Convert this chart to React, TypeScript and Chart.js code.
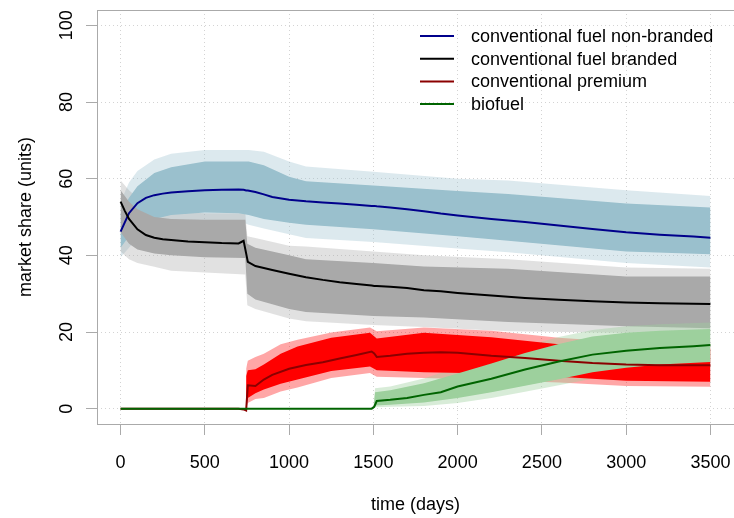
import { useEffect, useRef } from "react";
import { Chart, registerables } from "chart.js";

Chart.register(...registerables);

// axis ticks
const X_TICKS = [0, 500, 1000, 1500, 2000, 2500, 3000, 3500];
const Y_TICKS = [0, 20, 40, 60, 80, 100];

const SERIES_NAMES = [
  "conventional fuel non-branded",
  "conventional fuel branded",
  "conventional premium",
  "biofuel",
];
const LINE_COLORS = ["#00008b", "#000000", "#8b0000", "#006400"];

// mean market share over all runs (days -> units)
const TIME = [
  0, 25, 50, 100, 150, 200, 250, 300, 400, 500, 600, 700, 730, 745, 755, 800, 850, 900, 1000, 1100,
  1200, 1300, 1400, 1490, 1505, 1520, 1600, 1700, 1800, 1900, 2000, 2200, 2400, 2600, 2800, 3000,
  3200, 3400, 3500,
];
const NON_BRANDED = [
  46.2, 48.6, 51.0, 53.6, 55.0, 55.7, 56.1, 56.4, 56.7, 57.0, 57.1, 57.2, 57.1, 56.9, 56.9, 56.5,
  55.9, 55.2, 54.5, 54.1, 53.8, 53.5, 53.2, 52.9, 52.9, 52.8, 52.5, 52.0, 51.5, 50.9, 50.4, 49.5,
  48.7, 47.8, 46.9, 46.0, 45.4, 44.9, 44.6,
];
const BRANDED = [
  54.0, 51.6, 49.5, 46.8, 45.3, 44.6, 44.2, 44.0, 43.6, 43.4, 43.2, 43.1, 43.8, 40.5, 38.3, 37.2,
  36.7, 36.2, 35.2, 34.3, 33.6, 33.0, 32.5, 32.1, 32.0, 32.0, 31.8, 31.5, 30.9, 30.6, 30.2, 29.5,
  28.9, 28.4, 28.0, 27.7, 27.5, 27.4, 27.3,
];
const PREMIUM = [
  0, 0, 0, 0, 0, 0, 0, 0, 0, 0, 0, 0, -0.2, -0.5, 6.1, 5.9, 7.6, 8.8, 10.4, 11.4, 12.1, 13.1, 14.0,
  14.9, 14.4, 13.5, 13.8, 14.3, 14.6, 14.7, 14.6, 13.8, 13.2, 12.5, 11.9, 11.5, 11.3, 11.3, 11.3,
];
const BIOFUEL = [
  0, 0, 0, 0, 0, 0, 0, 0, 0, 0, 0, 0, 0, 0, 0, 0, 0, 0, 0, 0, 0, 0, 0, 0, 0.5, 2.0, 2.3, 2.8, 3.6,
  4.3, 5.8, 7.8, 10.2, 12.3, 14.1, 15.1, 15.8, 16.3, 16.6,
];

// spread of the individual runs: dense core and thin outer fringe
const NB_T = [0, 50, 100, 200, 300, 500, 700, 760, 850, 1000, 1100, 1500, 2000, 2300, 3000, 3500];
const NB_CORE_LO = [42, 45, 47.5, 49.5, 50.5, 51.2, 51, 50.5, 49.5, 48.5, 48, 46.8, 45, 43.8, 41, 40.3];
const NB_CORE_HI = [51, 55, 58, 61.5, 63, 64.5, 64.5, 64.5, 63.5, 60.5, 59.3, 58.2, 56.8, 56, 53.5, 52.5];
const NB_FRINGE_LO = [39.5, 42, 44.5, 47, 48.5, 49.2, 49, 48, 47, 45.5, 44.5, 43.5, 41.8, 40.8, 38, 36.8];
const NB_FRINGE_HI = [54, 59, 62, 65, 66.5, 67.5, 67.5, 67.5, 67, 64.5, 63.2, 61.8, 60, 59.5, 57, 55.5];

const BR_T = [0, 50, 100, 200, 300, 500, 740, 752, 800, 1000, 1100, 1500, 1800, 2300, 3000, 3500];
const BR_CORE_HI = [57, 54, 52, 50, 49.5, 49.3, 49.3, 43, 42, 40, 39, 38, 37.1, 36.5, 34.5, 34.5];
const BR_CORE_LO = [46, 43, 41.5, 40.5, 40, 39.5, 39.3, 30, 28.5, 26, 25.2, 24.2, 23.8, 22.6, 21.5, 21];
const BR_FRINGE_HI = [59.5, 57, 55, 52.5, 51.5, 51, 51, 45, 44.5, 42.5, 42.3, 41, 40, 39, 36.8, 36.5];
const BR_FRINGE_LO = [41, 39, 38, 37, 36, 35.5, 35, 27, 26, 23.5, 22.8, 21.8, 21.3, 20.2, 19.8, 19.5];

const PR_T = [745, 755, 800, 850, 950, 1050, 1250, 1480, 1520, 1800, 2200, 2600, 3000, 3500];
const PR_CORE_LO = [0.5, 2.8, 4.0, 5.0, 6.5, 7.6, 9.8, 11.0, 10.0, 9.5, 9.2, 8.3, 7.3, 7.0];
const PR_CORE_HI = [8.5, 10.0, 10.3, 11.5, 14.3, 16.2, 18.5, 19.8, 18.3, 19.8, 18.6, 16.8, 15.8, 15.6];
const PR_FRINGE_LO = [0.2, 1.5, 2.5, 2.8, 4.5, 5.5, 8.0, 9.3, 8.3, 8.0, 7.5, 6.8, 5.9, 5.7];
const PR_FRINGE_HI = [10.5, 12.5, 13.5, 14.3, 16.8, 18.0, 19.9, 21.2, 20.2, 21.2, 20.3, 18.5, 17.3, 17.0];

const BF_T = [1500, 1510, 1600, 1800, 2000, 2200, 2400, 2600, 2800, 3000, 3200, 3500];
const BF_CORE_LO = [0, 0.8, 1.0, 1.6, 2.8, 4.3, 6.0, 7.7, 9.5, 10.7, 11.5, 12.2];
const BF_CORE_HI = [0, 4.3, 4.8, 6.6, 9.2, 11.8, 14.5, 16.9, 18.8, 19.8, 20.3, 20.8];
const BF_FRINGE_LO = [0, 0.4, 0.5, 0.7, 1.5, 2.8, 4.4, 6.1, 7.8, 9.2, 10.0, 10.7];
const BF_FRINGE_HI = [0, 5.3, 5.8, 7.9, 10.8, 13.5, 16.3, 18.7, 20.5, 21.5, 22.0, 22.5];

const FONT = '"Liberation Sans", Arial, Helvetica, sans-serif';

const pts = (t: number[], v: number[]) => t.map((x, i) => ({ x, y: v[i] }));

// an upper edge filled down to the lower edge that follows it
function band(t: number[], hi: number[], lo: number[], color: string, order: number) {
  const common = {
    borderWidth: 0,
    borderColor: "rgba(0,0,0,0)",
    pointRadius: 0,
    tension: 0,
    order,
  };
  return [
    { ...common, label: "", data: pts(t, hi), fill: "+1", backgroundColor: color },
    { ...common, label: "", data: pts(t, lo), fill: false, backgroundColor: color },
  ];
}

function meanLine(i: number, values: number[], order: number) {
  return {
    label: SERIES_NAMES[i],
    data: pts(TIME, values),
    borderColor: LINE_COLORS[i],
    backgroundColor: LINE_COLORS[i],
    borderWidth: 2,
    pointRadius: 0,
    tension: 0,
    fill: false,
    order,
  };
}

const frameAndLegend = {
  id: "frameAndLegend",
  afterDatasetsDraw(chart: any) {
    const { ctx, chartArea } = chart;
    ctx.save();
    ctx.strokeStyle = "#aaaaaa";
    ctx.lineWidth = 1;
    ctx.strokeRect(chartArea.left + 0.5, chartArea.top + 0.5, chartArea.right - chartArea.left, chartArea.bottom - chartArea.top);

    ctx.font = `18px ${FONT}`;
    ctx.textBaseline = "middle";
    ctx.textAlign = "left";
    const x0 = chartArea.right - 314;
    SERIES_NAMES.forEach((name, i) => {
      const y = chartArea.top + 26 + i * 22.7;
      ctx.strokeStyle = LINE_COLORS[i];
      ctx.lineWidth = 2;
      ctx.beginPath();
      ctx.moveTo(x0, y);
      ctx.lineTo(x0 + 34, y);
      ctx.stroke();
      ctx.fillStyle = "#000";
      ctx.fillText(name, x0 + 51, y + 1);
    });
    ctx.restore();
  },
};

export default function App() {
  const canvasRef = useRef<HTMLCanvasElement | null>(null);

  useEffect(() => {
    const canvas = canvasRef.current;
    if (!canvas) return;
    Chart.defaults.font.family = FONT;

    const datasets: any[] = [
      meanLine(0, NON_BRANDED, 4),
      meanLine(1, BRANDED, 3),
      meanLine(2, PREMIUM, 2),
      meanLine(3, BIOFUEL, 1),
      ...band(NB_T, NB_FRINGE_HI, NB_FRINGE_LO, "rgba(154,192,205,0.35)", 20),
      ...band(BR_T, BR_FRINGE_HI, BR_FRINGE_LO, "rgba(169,169,169,0.35)", 19),
      ...band(NB_T, NB_CORE_HI, NB_CORE_LO, "rgb(154,192,205)", 18),
      ...band(BR_T, BR_CORE_HI, BR_CORE_LO, "rgb(169,169,169)", 17),
      ...band(PR_T, PR_FRINGE_HI, PR_FRINGE_LO, "rgba(255,0,0,0.35)", 16),
      ...band(BF_T, BF_FRINGE_HI, BF_FRINGE_LO, "rgba(157,208,157,0.4)", 15),
      ...band(PR_T, PR_CORE_HI, PR_CORE_LO, "rgb(255,0,0)", 14),
      ...band(BF_T, BF_CORE_HI, BF_CORE_LO, "rgb(157,208,157)", 13),
    ];

    const chart = new Chart(canvas, {
      type: "line",
      data: { datasets },
      plugins: [frameAndLegend],
      options: {
        animation: false,
        responsive: false,
        events: [],
        layout: { padding: { top: 10, right: 0, left: 0, bottom: 0 } },
        plugins: { legend: { display: false }, tooltip: { enabled: false } },
        scales: {
          x: {
            type: "linear",
            min: -140,
            max: 3640,
            afterBuildTicks: (s: any) => {
              s.ticks = X_TICKS.map((value) => ({ value }));
            },
            afterFit: (s: any) => {
              s.height = 94;
              s.paddingLeft = 0;
              s.paddingRight = 0;
            },
            ticks: {
              font: { size: 18 },
              color: "#000",
              padding: 17,
              maxRotation: 0,
              autoSkip: false,
              callback: (v: any) => String(v),
            },
            grid: { color: "#d3d3d3", lineWidth: 1, tickLength: 11, tickColor: "#aaaaaa", tickWidth: 1 },
            border: { display: false, dash: [1, 3] },
            title: {
              display: true,
              text: "time (days)",
              font: { size: 18 },
              color: "#000",
              padding: { top: 0, bottom: 2 },
            },
          },
          y: {
            type: "linear",
            min: -4,
            max: 104,
            afterBuildTicks: (s: any) => {
              s.ticks = Y_TICKS.map((value) => ({ value }));
            },
            afterFit: (s: any) => {
              s.width = 97;
              s.paddingTop = 0;
              s.paddingBottom = 0;
            },
            ticks: {
              font: { size: 18 },
              color: "#000",
              padding: 4,
              minRotation: 90,
              maxRotation: 90,
              crossAlign: "center",
              autoSkip: false,
              callback: (v: any) => String(v),
            },
            grid: { color: "#d3d3d3", lineWidth: 1, tickLength: 11, tickColor: "#aaaaaa", tickWidth: 1 },
            border: { display: false, dash: [1, 3] },
            title: {
              display: true,
              text: "market share (units)",
              font: { size: 18 },
              color: "#000",
              padding: { top: 15, bottom: 0 },
            },
          },
        },
      },
    } as any);

    return () => chart.destroy();
  }, []);

  return (
    <div style={{ position: "absolute", left: 0, top: 0, width: 734, height: 518, background: "#fff" }}>
      <canvas ref={canvasRef} width={734} height={518} style={{ display: "block" }} />
    </div>
  );
}
